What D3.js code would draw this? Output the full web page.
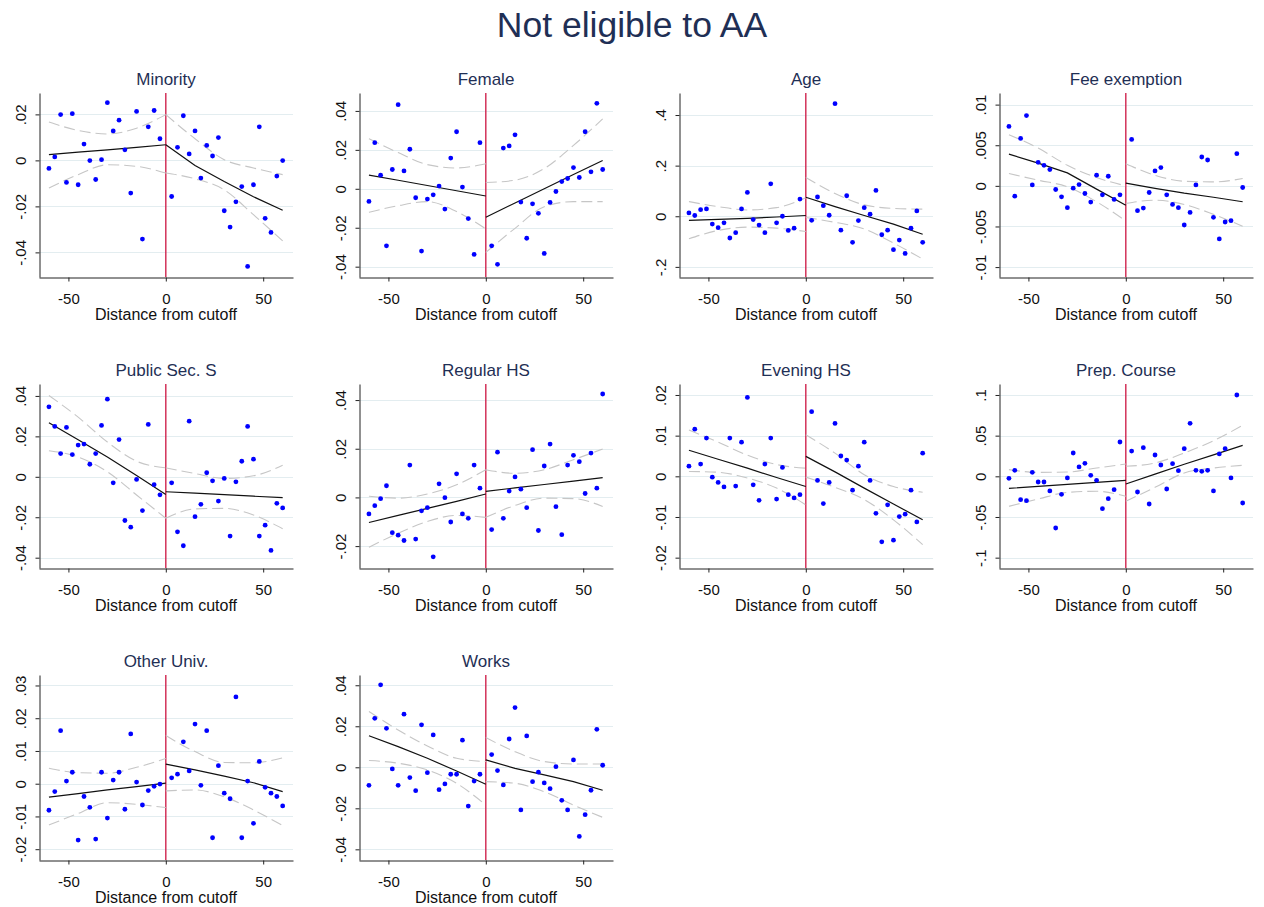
<!DOCTYPE html>
<html>
<head>
<meta charset="utf-8">
<script src="https://cdn.jsdelivr.net/npm/d3@7"></script>
<style>
  html, body { margin: 0; padding: 0; background: #fff; }
  svg { display: block; }
  text { font-family: "Liberation Sans", Arial, sans-serif; }
</style>
</head>
<body>
<svg id="chart" width="1264" height="907"></svg>
<script>
// ---------- DATA ----------
const mainTitle = "Not eligible to AA";
const xLabel = "Distance from cutoff";
const xBins = [-60,-57,-54,-51,-48,-45,-42,-39,-36,-33,-30,-27,-24,-21,-18,-15,-12,-9,-6,-3,
               3,6,9,12,15,18,21,24,27,30,33,36,39,42,45,48,51,54,57,60];
const fitX = [-60,-45,-30,-15,0, 0,15,30,45,60];
const xTicks = [-50, 0, 50];
const xTickLabels = ["-50", "0", "50"];

const panelNames = ["Minority","Female","Age","Fee exemption","Public Sec. S","Regular HS","Evening HS","Prep. Course","Other Univ.","Works"];

// Minority
const minorityY = [-0.0035,0.0015,0.0199,-0.0096,0.0203,-0.0106,0.0071,-0.0001,-0.0083,0.0003,0.0251,0.0128,0.0175,0.0046,-0.0142,0.0213,-0.0342,0.0146,0.0217,0.0094,
                   -0.0157,0.0057,0.0194,0.0028,0.0128,-0.0077,0.0065,0.0019,0.0099,-0.0219,-0.029,-0.018,-0.0114,-0.0461,-0.0106,0.0146,-0.0252,-0.0313,-0.0068,-0.0001];
const minorityFit = [0.0025,0.0036,0.0046,0.0057,0.0068, 0.0068,-0.0022,-0.0092,-0.0158,-0.0217];
const minorityHi  = [0.0167,0.013,0.0115,0.014,0.0199, 0.0199,0.0094,0.0003,-0.0033,-0.0062];
const minorityLo  = [-0.012,-0.0062,-0.0019,-0.0026,-0.0055, -0.0055,-0.008,-0.0128,-0.0236,-0.035];
const minorityTicks = [0.02,0,-0.02,-0.04];
const minorityTickLabels = [".02","0","-.02","-.04"];
const minorityDomain = [-0.0507,0.0293];

// Female
const femaleY = [-0.0065,0.0237,0.007,-0.0293,0.0099,0.0432,0.0092,0.0203,-0.0046,-0.032,-0.0053,-0.0031,0.0014,-0.0104,0.0158,0.0293,0.0009,-0.0153,-0.0337,0.0237,
                 -0.0293,-0.0388,0.0209,0.022,0.0277,-0.0068,-0.0254,-0.0077,-0.0126,-0.0332,-0.007,-0.0014,0.0037,0.0053,0.0109,0.0058,0.0293,0.0087,0.0439,0.0099];
const femaleFit = [0.007,0.0044,0.0017,-0.001,-0.0037, -0.0146,-0.0073,0.0,0.0073,0.0145];
const femaleHi  = [0.0257,0.0186,0.0124,0.0107,0.0129, 0.0032,0.0044,0.0104,0.0223,0.0359];
const femaleLo  = [-0.0121,-0.0087,-0.0066,-0.0117,-0.0206, -0.0327,-0.0203,-0.0092,-0.0066,-0.0066];
const femaleTicks = [0.04,0.02,0,-0.02,-0.04];
const femaleTickLabels = [".04",".02","0","-.02","-.04"];
const femaleDomain = [-0.0453,0.0492];

// Age
const ageY = [0.013,0.003,0.026,0.029,-0.031,-0.045,-0.026,-0.086,-0.065,0.029,0.094,-0.013,-0.035,-0.065,0.128,-0.026,0.0,-0.056,-0.047,0.068,
              -0.016,0.076,0.042,0.004,0.445,-0.055,0.081,-0.103,-0.017,0.034,0.008,0.102,-0.073,-0.055,-0.132,-0.094,-0.147,-0.047,0.021,-0.103];
const ageFit = [-0.016,-0.012,-0.008,-0.003,0.003, 0.075,0.038,0.003,-0.031,-0.071];
const ageHi  = [0.058,0.038,0.025,0.034,0.073, 0.153,0.09,0.045,0.031,0.028];
const ageLo  = [-0.089,-0.056,-0.043,-0.047,-0.06, -0.005,-0.024,-0.05,-0.106,-0.169];
const ageTicks = [0.4,0.2,0,-0.2];
const ageTickLabels = [".4",".2","0","-.2"];
const ageDomain = [-0.240,0.487];

// Fee exemption
const feeY = [0.00731,-0.00127,0.00584,0.00865,0.00012,0.0029,0.00253,0.002,-0.00045,-0.00135,-0.00269,-0.00029,0.00016,-0.00094,-0.002,0.00131,-0.0011,0.00118,-0.00167,-0.0011,
              0.00571,-0.00306,-0.00273,-0.00082,0.00184,0.00225,-0.0011,-0.00229,-0.00269,-0.00482,-0.00327,0.00012,0.00355,0.00318,-0.00388,-0.00653,-0.00445,-0.00429,0.00396,-0.0002];
const feeFit = [0.0039,0.0028,0.0016,-0.0004,-0.0024, 0.00033,-0.0003,-0.0009,-0.0014,-0.00196];
const feeHi  = [0.0063,0.00465,0.00253,0.00102,0.0, 0.00273,0.0013,0.00057,0.00049,0.0009];
const feeLo  = [0.00151,0.0007,-0.00012,-0.00196,-0.00433, -0.00216,-0.00176,-0.00229,-0.00351,-0.00498];
const feeTicks = [0.01,0.005,0,-0.005,-0.01];
const feeTickLabels = [".01",".005","0","-.005","-.01"];
const feeDomain = [-0.01122,0.01143];

// Public Sec. S
const publicY = [0.0346,0.0249,0.0115,0.0244,0.011,0.0157,0.0162,0.0062,0.0115,0.0254,0.0384,-0.003,0.0184,-0.0216,-0.0249,-0.0013,-0.0167,0.0259,-0.0039,-0.0089,
                 -0.003,-0.0272,-0.0341,0.0275,-0.0197,-0.0136,0.002,-0.002,-0.012,-0.0008,-0.0293,-0.0025,0.0077,0.0249,0.0087,-0.0293,-0.0239,-0.0364,-0.0131,-0.0154];
const publicFit = [0.0267,0.0183,0.0098,0.0006,-0.0087, -0.0074,-0.0081,-0.0088,-0.0096,-0.0103];
const publicHi  = [0.0402,0.0295,0.0172,0.0077,0.0044, 0.0044,0.0016,-0.0008,0.0005,0.0057];
const publicLo  = [0.0129,0.0098,0.0025,-0.009,-0.0205, -0.0205,-0.0159,-0.0156,-0.0189,-0.0257];
const publicTicks = [0.04,0.02,0,-0.02,-0.04];
const publicTickLabels = [".04",".02","0","-.02","-.04"];
const publicDomain = [-0.0451,0.0459];

// Regular HS
const regularY = [-0.0068,-0.0034,-0.0005,0.0048,-0.0145,-0.0155,-0.0177,0.0133,-0.0171,-0.0055,-0.0042,-0.0244,0.0056,-0.0001,-0.0101,0.0097,-0.0068,-0.0086,0.0133,0.0038,
                  -0.0132,0.0186,-0.0086,0.0026,0.0084,0.0034,-0.0042,0.0196,-0.0136,0.0129,0.0219,-0.0038,-0.0153,0.0133,0.0173,0.0147,0.0016,0.0182,0.0038,0.0425];
const regularFit = [-0.0103,-0.0074,-0.0045,-0.0016,0.0014, 0.0025,0.0039,0.0053,0.0067,0.0081];
const regularHi  = [0.0005,-0.0003,0.0014,0.0052,0.0114, 0.0114,0.0099,0.0114,0.0155,0.0199];
const regularLo  = [-0.0205,-0.0147,-0.0099,-0.0074,-0.0082, -0.0082,-0.0033,-0.0003,-0.0005,-0.0037];
const regularTicks = [0.04,0.02,0,-0.02];
const regularTickLabels = [".04",".02","0","-.02"];
const regularDomain = [-0.029,0.0466];

// Evening HS
const eveningY = [0.0025,0.0116,0.003,0.0094,-0.0002,-0.0015,-0.0026,0.0094,-0.0024,0.0084,0.0194,-0.0021,-0.0059,0.003,0.0094,-0.0056,0.0022,-0.0045,-0.0053,-0.0045,
                  0.0159,-0.001,-0.0067,-0.0015,0.013,0.005,0.004,-0.0034,0.0025,0.0084,-0.001,-0.0091,-0.0161,-0.007,-0.0157,-0.0099,-0.0093,-0.0034,-0.0112,0.0057];
const eveningFit = [0.0064,0.0042,0.002,-0.0003,-0.0025, 0.0049,0.0011,-0.0029,-0.0068,-0.0107];
const eveningHi  = [0.0114,0.0084,0.0052,0.0029,0.002, 0.0102,0.0057,0.0004,-0.0025,-0.0039];
const eveningLo  = [0.0012,0.001,-0.0004,-0.0029,-0.007, -0.0002,-0.0027,-0.0057,-0.0107,-0.0168];
const eveningTicks = [0.02,0.01,0,-0.01,-0.02];
const eveningTickLabels = [".02",".01","0","-.01","-.02"];
const eveningDomain = [-0.02254,0.0227];

// Prep. Course
const prepY = [-0.0025,0.0074,-0.0287,-0.0299,0.0049,-0.007,-0.007,-0.018,-0.0635,-0.0221,-0.002,0.0287,0.0115,0.016,0.0012,-0.0049,-0.0398,-0.0275,-0.0164,0.0422,
               0.0311,-0.0193,0.0352,-0.034,0.0262,0.0139,-0.0156,0.0156,0.007,0.034,0.0652,0.0074,0.0061,0.0074,-0.018,0.0275,0.034,-0.002,0.1,-0.0328];
const prepFit = [-0.0148,-0.0123,-0.0099,-0.0074,-0.0049, -0.0094,0.0027,0.0148,0.0264,0.0381];
const prepHi  = [0.0082,0.0049,0.0053,0.0102,0.0152, 0.0123,0.0164,0.0287,0.0438,0.0627];
const prepLo  = [-0.0369,-0.0279,-0.0197,-0.0184,-0.0246, -0.0307,-0.0135,0.0041,0.0102,0.0135];
const prepTicks = [0.1,0.05,0,-0.05,-0.1];
const prepTickLabels = [".1",".05","0","-.05","-.1"];
const prepDomain = [-0.1127,0.1135];

// Other Univ.
const otherY = [-0.0081,-0.0024,0.0162,0.0008,0.0035,-0.0172,-0.0039,-0.0072,-0.0169,0.0035,-0.0105,0.0011,0.0035,-0.0078,0.0152,0.0005,-0.0065,-0.0021,-0.0008,-0.0001,
                0.0018,0.0029,0.0128,0.0039,0.0182,-0.0005,0.0162,-0.0165,0.0055,-0.0029,-0.0046,0.0265,-0.0165,0.0008,-0.0121,0.0068,-0.0011,-0.0029,-0.0039,-0.0068];
const otherFit = [-0.0041,-0.003,-0.0019,-0.0009,0.0002, 0.006,0.0042,0.0023,0.0003,-0.0024];
const otherHi  = [0.0047,0.0034,0.0032,0.005,0.0077, 0.0147,0.0098,0.0065,0.0064,0.0079];
const otherLo  = [-0.0126,-0.0091,-0.0058,-0.0063,-0.0073, -0.0022,-0.0019,-0.004,-0.008,-0.0128];
const otherTicks = [0.03,0.02,0.01,0,-0.01,-0.02];
const otherTickLabels = [".03",".02",".01","0","-.01","-.02"];
const otherDomain = [-0.0233,0.0332];

// Works
const worksY = [-0.0088,0.0239,0.0402,0.019,-0.0008,-0.0088,0.0259,-0.005,-0.0114,0.0207,-0.0026,0.0158,-0.0109,-0.0081,-0.0034,-0.0034,0.0132,-0.0189,-0.0067,-0.0034,
                0.0062,-0.0016,-0.0086,0.0138,0.0291,-0.0208,0.0153,-0.007,-0.0024,-0.0076,-0.0104,0.0003,-0.0161,-0.0208,0.0036,-0.0337,-0.0231,-0.0112,0.0185,0.001];
const worksFit = [0.0154,0.0101,0.0044,-0.0018,-0.0083, 0.0036,-0.0005,-0.0037,-0.007,-0.0112];
const worksHi  = [0.0272,0.0182,0.0104,0.0044,0.0028, 0.0145,0.0076,0.0028,0.0016,0.0016];
const worksLo  = [0.0033,0.002,-0.0013,-0.0078,-0.0184, -0.007,-0.0078,-0.0119,-0.0184,-0.0244];
const worksTicks = [0.04,0.02,0,-0.02,-0.04];
const worksTickLabels = [".04",".02","0","-.02","-.04"];
const worksDomain = [-0.0452,0.045];

// ---------- assemble ----------
const panels = [
  {y: minorityY, fit: minorityFit, hi: minorityHi, lo: minorityLo, ticks: minorityTicks, labels: minorityTickLabels, dom: minorityDomain},
  {y: femaleY, fit: femaleFit, hi: femaleHi, lo: femaleLo, ticks: femaleTicks, labels: femaleTickLabels, dom: femaleDomain},
  {y: ageY, fit: ageFit, hi: ageHi, lo: ageLo, ticks: ageTicks, labels: ageTickLabels, dom: ageDomain},
  {y: feeY, fit: feeFit, hi: feeHi, lo: feeLo, ticks: feeTicks, labels: feeTickLabels, dom: feeDomain},
  {y: publicY, fit: publicFit, hi: publicHi, lo: publicLo, ticks: publicTicks, labels: publicTickLabels, dom: publicDomain},
  {y: regularY, fit: regularFit, hi: regularHi, lo: regularLo, ticks: regularTicks, labels: regularTickLabels, dom: regularDomain},
  {y: eveningY, fit: eveningFit, hi: eveningHi, lo: eveningLo, ticks: eveningTicks, labels: eveningTickLabels, dom: eveningDomain},
  {y: prepY, fit: prepFit, hi: prepHi, lo: prepLo, ticks: prepTicks, labels: prepTickLabels, dom: prepDomain},
  {y: otherY, fit: otherFit, hi: otherHi, lo: otherLo, ticks: otherTicks, labels: otherTickLabels, dom: otherDomain},
  {y: worksY, fit: worksFit, hi: worksHi, lo: worksLo, ticks: worksTicks, labels: worksTickLabels, dom: worksDomain}
].map((p, i) => Object.assign(p, {name: panelNames[i]}));

// ---------- layout ----------
const colLefts = [39, 359, 679, 999];
const plotW = 254;
const rowTops = [93, 384, 675];
const rowBottoms = [277, 568, 860];
const titleColor = "#1f2f55";

const svg = d3.select("#chart");
svg.append("rect").attr("width", 1264).attr("height", 907).attr("fill", "#fff");

svg.append("text")
  .attr("x", 632).attr("y", 37)
  .attr("text-anchor", "middle")
  .attr("font-size", 35.5)
  .attr("fill", titleColor)
  .text(mainTitle);

panels.forEach((p, i) => {
  const col = i % 4, row = Math.floor(i / 4);
  const left = colLefts[col], right = left + plotW;
  const top = rowTops[row], bottom = rowBottoms[row];
  const x = d3.scaleLinear().domain([-65.1, 65.3]).range([left, right]);
  const y = d3.scaleLinear().domain(p.dom).range([bottom, top]);
  const g = svg.append("g");

  // grid
  g.selectAll("line.grid").data(p.ticks).join("line")
    .attr("x1", left + 1).attr("x2", right)
    .attr("y1", d => Math.round(y(d)) + 0.5).attr("y2", d => Math.round(y(d)) + 0.5)
    .attr("stroke", "#e3edf0").attr("stroke-width", 1);

  // cutoff line
  g.append("line")
    .attr("x1", x(0)).attr("x2", x(0))
    .attr("y1", top).attr("y2", bottom)
    .attr("stroke", "#d0254f").attr("stroke-width", 1.4);

  // CI & fit
  const leftIdx = [0,1,2,3,4], rightIdx = [5,6,7,8,9];
  const ciLine = arr => d3.line().x(k => x(fitX[k])).y(k => y(arr[k])).curve(d3.curveMonotoneX);
  const fitLine = d3.line().x(k => x(fitX[k])).y(k => y(p.fit[k]));
  [leftIdx, rightIdx].forEach(idx => {
    [p.hi, p.lo].forEach(arr => {
      g.append("path").attr("d", ciLine(arr)(idx))
        .attr("fill", "none").attr("stroke", "#c6c6c6").attr("stroke-width", 1.1)
        .attr("stroke-dasharray", "11,5");
    });
    g.append("path").attr("d", fitLine(idx))
      .attr("fill", "none").attr("stroke", "#111").attr("stroke-width", 1.2);
  });

  // points
  g.selectAll("circle").data(p.y).join("circle")
    .attr("cx", (d, k) => x(xBins[k]))
    .attr("cy", d => y(d))
    .attr("r", 2.4)
    .attr("fill", "#0000ff");

  // y axis
  const ya = g.append("g").attr("transform", `translate(${left + 0.5},0)`)
    .call(d3.axisLeft(y).tickValues(p.ticks).tickFormat((d, k) => p.labels[k]).tickSize(4).tickSizeOuter(0));
  ya.select(".domain").attr("stroke", "#222");
  ya.selectAll(".tick line").attr("stroke", "#222");
  ya.selectAll(".tick text")
    .attr("transform", "rotate(-90)")
    .attr("x", 0).attr("y", -14).attr("dy", 0)
    .attr("text-anchor", "middle")
    .attr("font-size", 15)
    .attr("font-family", "Liberation Sans, Arial, sans-serif")
    .attr("fill", "#111");

  // x axis
  const xa = g.append("g").attr("transform", `translate(0,${bottom + 0.5})`)
    .call(d3.axisBottom(x).tickValues(xTicks).tickFormat((d, k) => xTickLabels[k]).tickSize(4).tickSizeOuter(0));
  xa.select(".domain").attr("stroke", "#222");
  xa.selectAll(".tick line").attr("stroke", "#222");
  xa.selectAll(".tick text")
    .attr("y", 26).attr("dy", 0)
    .attr("font-size", 15)
    .attr("font-family", "Liberation Sans, Arial, sans-serif")
    .attr("fill", "#111");

  // x label
  g.append("text")
    .attr("x", (left + right) / 2).attr("y", bottom + 43)
    .attr("text-anchor", "middle")
    .attr("font-size", 16)
    .attr("fill", "#111")
    .text(xLabel);

  // panel title
  g.append("text")
    .attr("x", (left + right) / 2).attr("y", top - 8)
    .attr("text-anchor", "middle")
    .attr("font-size", 17)
    .attr("fill", titleColor)
    .text(p.name);
});
</script>
</body>
</html>
